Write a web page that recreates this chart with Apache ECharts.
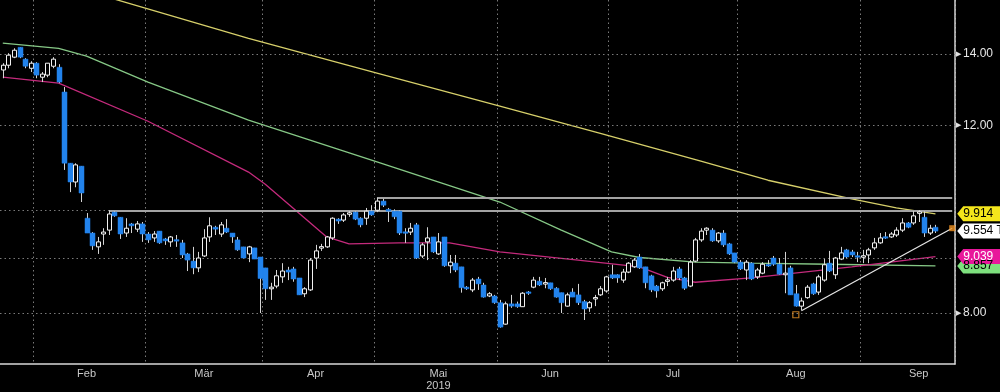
<!DOCTYPE html>
<html><head><meta charset="utf-8">
<script src="https://cdn.jsdelivr.net/npm/echarts@6/dist/echarts.min.js"></script>
<style>html,body{margin:0;padding:0;background:#000;}#c{width:1000px;height:392px;}</style>
</head><body><div id="c"></div>
<script>
const FONT = "'Liberation Sans Narrow','Liberation Sans',Arial,sans-serif";

// trading days shown on the category axis (last three have no candle yet)
const tradingDays = {
  '2019-01': [24,25,28,29,30,31],
  '2019-02': [1,4,5,6,7,8,11,12,13,14,15,18,19,20,21,22,25,26,27,28],
  '2019-03': [1,4,5,6,7,8,11,12,13,14,15,18,19,20,21,22,25,26,27,28,29],
  '2019-04': [1,2,3,4,5,8,9,10,11,12,15,16,17,18,23,24,25,26,29,30],
  '2019-05': [2,3,6,7,8,9,10,13,14,15,16,17,20,21,22,23,24,27,28,29,30,31],
  '2019-06': [3,4,5,6,7,10,11,12,13,14,17,18,19,20,21,24,25,26,27,28],
  '2019-07': [1,2,3,4,5,8,9,10,11,12,15,16,17,18,19,22,23,24,25,26,29,30,31],
  '2019-08': [1,2,5,6,7,8,9,12,13,14,15,16,19,20,21,22,23,26,27,28,29,30],
  '2019-09': [2,3,4,5,6,9,10,11,12,13,16,17,18,19,20,23,24]
};
const categories = [];
for (const m in tradingDays) for (const d of tradingDays[m]) categories.push(m + '-' + String(d).padStart(2, '0'));

// [open, close, low, high]
const ohlc = [
[13.53,13.67,13.29,13.73],[13.67,13.97,13.58,14.03],[13.91,14.12,13.88,14.18],[14.21,13.91,13.88,14.21],
[13.85,13.64,13.58,13.88],[13.58,13.73,13.47,13.79],[13.73,13.38,13.29,13.76],[13.32,13.41,13.18,13.47],
[13.38,13.73,13.32,13.73],[13.64,13.85,13.58,13.91],[13.61,13.18,13.15,13.70],[12.90,11.06,10.90,13.04],
[11.06,10.62,10.39,11.06],[10.62,11.02,10.50,11.06],[10.99,10.37,10.17,10.99],[9.82,9.51,9.51,9.93],
[9.51,9.25,9.17,9.53],[9.23,9.33,9.09,9.43],[9.49,9.53,9.27,9.61],[9.57,9.91,9.47,9.99],
[9.95,9.87,9.85,9.97],[9.84,9.49,9.39,9.84],[9.51,9.61,9.43,9.82],[9.70,9.66,9.51,9.72],
[9.59,9.70,9.53,9.76],[9.70,9.49,9.33,9.74],[9.49,9.37,9.31,9.53],[9.41,9.49,9.33,9.55],
[9.55,9.31,9.29,9.55],[9.39,9.35,9.27,9.41],[9.33,9.43,9.23,9.45],[9.37,9.35,9.23,9.47],
[9.31,9.07,9.01,9.37],[9.09,8.97,8.76,9.11],[8.95,8.82,8.70,9.23],[8.82,9.01,8.74,9.13],
[9.05,9.41,9.03,9.59],[9.43,9.66,9.33,9.84],[9.63,9.59,9.47,9.66],[9.49,9.68,9.43,9.74],
[9.61,9.53,9.51,9.80],[9.51,9.43,9.31,9.51],[9.37,9.17,9.15,9.43],[9.23,9.01,9.01,9.23],
[9.09,9.23,8.93,9.25],[9.21,8.99,8.99,9.21],[9.03,8.62,8.00,9.03],[8.82,8.43,8.23,8.82],
[8.43,8.46,8.23,8.54],[8.48,8.67,8.44,8.78],[8.65,8.76,8.54,8.91],[8.78,8.74,8.59,8.84],
[8.80,8.61,8.56,8.84],[8.63,8.32,8.32,8.63],[8.34,8.43,8.28,8.46],[8.41,8.97,8.39,9.01],
[9.01,9.15,8.80,9.27],[9.21,9.23,9.15,9.29],[9.23,9.43,9.21,9.45],[9.41,9.82,9.37,9.84],
[9.80,9.76,9.70,9.82],[9.78,9.89,9.74,9.93],[9.91,9.93,9.85,9.97],[9.95,9.80,9.78,9.97],
[9.82,9.68,9.63,9.84],[9.82,9.97,9.68,10.04],[9.97,9.89,9.87,10.10],[9.99,10.19,9.95,10.26],
[10.19,10.10,10.06,10.24],[10.01,9.97,9.74,10.04],[9.97,9.85,9.80,10.01],[9.97,9.51,9.47,9.99],
[9.53,9.51,9.31,9.61],[9.53,9.61,9.47,9.72],[9.68,9.01,8.99,9.72],[9.05,9.27,9.01,9.31],
[9.33,9.41,8.97,9.63],[9.43,9.13,9.11,9.43],[9.09,9.33,9.07,9.51],[9.43,8.86,8.84,9.43],
[8.86,8.93,8.72,9.07],[8.91,8.78,8.74,9.07],[8.84,8.45,8.36,8.84],[8.46,8.43,8.41,8.48],
[8.41,8.59,8.37,8.63],[8.61,8.52,8.41,8.65],[8.50,8.28,8.27,8.54],[8.30,8.34,8.28,8.37],
[8.30,8.18,8.16,8.32],[8.18,7.76,7.75,8.23],[7.81,8.16,7.80,8.20],[8.16,8.12,8.09,8.32],
[8.16,8.11,8.09,8.20],[8.11,8.35,8.11,8.37],[8.37,8.35,8.32,8.39],[8.46,8.59,8.44,8.65],
[8.57,8.50,8.48,8.65],[8.52,8.54,8.44,8.63],[8.54,8.43,8.41,8.54],[8.44,8.28,8.27,8.46],
[8.36,8.18,8.00,8.36],[8.12,8.32,8.11,8.36],[8.37,8.28,8.28,8.44],[8.32,8.18,8.14,8.52],
[8.20,8.07,7.88,8.23],[8.09,8.18,8.02,8.21],[8.25,8.27,8.12,8.32],[8.32,8.43,8.30,8.48],
[8.39,8.65,8.36,8.67],[8.69,8.63,8.61,8.88],[8.69,8.63,8.54,8.70],[8.59,8.74,8.54,8.80],
[8.74,8.91,8.72,8.93],[8.84,8.97,8.82,9.01],[9.03,8.82,8.80,9.09],[8.84,8.54,8.44,8.84],
[8.67,8.41,8.37,8.69],[8.48,8.39,8.27,8.50],[8.43,8.54,8.39,8.56],[8.57,8.59,8.48,8.65],
[8.59,8.76,8.56,8.84],[8.80,8.63,8.59,8.84],[8.63,8.44,8.41,8.65],[8.48,8.93,8.46,8.97],
[8.95,9.37,8.93,9.41],[9.37,9.55,9.33,9.61],[9.57,9.61,9.47,9.63],[9.57,9.35,9.33,9.61],
[9.35,9.51,9.31,9.53],[9.51,9.27,9.23,9.57],[9.29,9.09,9.07,9.31],[9.11,8.93,8.91,9.11],
[8.93,8.80,8.78,8.97],[8.78,8.93,8.59,8.97],[8.91,8.61,8.59,8.93],[8.65,8.78,8.61,8.82],
[8.72,8.89,8.70,8.93],[8.88,8.86,8.84,8.97],[9.01,8.89,8.86,9.05],[8.89,8.70,8.69,9.01],
[8.69,8.72,8.35,9.13],[8.82,8.32,8.32,8.86],[8.34,8.12,8.11,8.50],[8.12,8.21,8.05,8.27],
[8.27,8.46,8.25,8.50],[8.52,8.34,8.32,8.54],[8.37,8.65,8.32,8.69],[8.59,8.88,8.56,8.99],
[8.91,8.76,8.74,9.15],[8.69,9.01,8.61,9.03],[8.99,9.11,8.97,9.23],[9.17,9.03,9.01,9.19],
[9.13,9.07,9.03,9.17],[9.05,9.03,8.93,9.13],[9.03,9.05,8.91,9.17],[9.07,9.17,8.91,9.21],
[9.21,9.31,9.17,9.41],[9.31,9.41,9.29,9.51],[9.43,9.41,9.39,9.53],[9.43,9.49,9.41,9.53],
[9.47,9.57,9.43,9.63],[9.57,9.72,9.53,9.82],[9.72,9.63,9.61,9.74],[9.72,9.87,9.68,9.97],
[9.93,9.95,9.74,9.99],[9.84,9.51,9.43,9.97],[9.51,9.61,9.47,9.68],[9.63,9.55,9.51,9.68]
];

// moving averages
const maYellow = [['2019-02-21',15.77],['2019-03-27',14.49],['2019-05-02',13.44],['2019-06-03',12.51],
  ['2019-06-27',11.80],['2019-07-23',11.11],['2019-08-08',10.66],['2019-08-29',10.24],['2019-09-10',10.04],['2019-09-19',9.914]];
const maGreen = [['2019-01-24',14.34],['2019-02-07',14.18],['2019-02-14',13.94],['2019-03-01',13.18],['2019-03-27',12.14],
  ['2019-05-02',11.09],['2019-06-03',10.17],['2019-06-18',9.57],['2019-07-01',9.13],['2019-07-08',9.02],
  ['2019-07-22',8.93],['2019-08-05',8.91],['2019-08-23',8.89],['2019-09-19',8.857]];
const maMagenta = [['2019-01-24',13.32],['2019-02-07',13.15],['2019-03-01',12.11],['2019-03-27',10.85],['2019-04-01',10.57],
  ['2019-04-16',9.43],['2019-04-24',9.29],['2019-05-08',9.31],['2019-05-21',9.31],['2019-06-03',9.13],['2019-06-21',8.97],
  ['2019-07-08',8.84],['2019-07-15',8.64],['2019-07-22',8.55],['2019-08-05',8.63],['2019-08-29',8.84],['2019-09-19',9.039]];

const levelLines = [['2019-02-20', 9.99], ['2019-05-02', 10.27]];
const trendLine = [['2019-08-16', 8.04], ['2019-09-24', 9.61]];
const trendAnchor = ['2019-08-15', 7.97];

const gridValues = [14, 12, 10, 9, 8];
const labeledValues = [14, 12, 8];
const monthNames = {'02':'Feb','03':'Mär','04':'Apr','05':'Mai','06':'Jun','07':'Jul','08':'Aug','09':'Sep'};
const monthLabelDates = ['2019-02-14','2019-03-15','2019-04-12','2019-05-17','2019-06-14','2019-07-16','2019-08-15','2019-09-16'];
const yearLabels = {'2019-05-17': '2019'};

const tagValues = [8.857, 9.039, 9.914, 9.554];
const tagTexts = ['8.857', '9.039', '9.914', '9.554 TUI'];
const tagBg = ['#7ee07e', '#e8179b', '#f4e61c', '#ffffff'];
const tagFg = ['#000000', '#ffffff', '#000000', '#000000'];

const lastCat = categories[categories.length - 1];
const candleData = ohlc.map((d, i) => [i, d[0], d[1], d[2], d[3]]);
const isMonthStart = (idx) => idx > 0 && categories[idx].slice(5, 7) !== categories[idx - 1].slice(5, 7);

const UP = '#f2f2f2', DOWN = '#2283ec', WICK = '#d4d4d4';

function renderCandle(params, api) {
  const i = api.value(0), o = api.value(1), c = api.value(2), l = api.value(3), h = api.value(4);
  const pO = api.coord([i, o]), pC = api.coord([i, c]), pL = api.coord([i, l]), pH = api.coord([i, h]);
  const band = api.coord([i + 1, o])[0] - pO[0];
  const up = c >= o;
  const w = up ? 4 : 5;
  const x = Math.round(pO[0]) + 0.5;
  let top = Math.min(pO[1], pC[1]);
  let bh = Math.abs(pO[1] - pC[1]);
  if (bh < 1.5) { top -= (1.5 - bh) / 2; bh = 1.5; }
  return {
    type: 'group',
    children: [
      { type: 'line', shape: { x1: x, y1: pH[1], x2: x, y2: pL[1] }, style: { stroke: WICK, lineWidth: 1 } },
      { type: 'rect', shape: { x: x - w / 2, y: top, width: w, height: bh },
        style: up ? { fill: '#000', stroke: UP, lineWidth: 1 } : { fill: DOWN, stroke: DOWN, lineWidth: 0.5 } }
    ]
  };
}

const chart = echarts.init(document.getElementById('c'), null, { renderer: 'canvas' });
chart.setOption({
  backgroundColor: '#000',
  animation: false,
  grid: { left: 0, right: 45, top: 0, bottom: 28 },
  xAxis: {
    type: 'category', data: categories, boundaryGap: true,
    axisLine: { lineStyle: { color: '#d8d8d8', width: 1.5 } },
    axisTick: { interval: (idx) => isMonthStart(idx), length: 4, lineStyle: { color: '#9a9a9a' } },
    axisLabel: {
      interval: (idx, val) => monthLabelDates.includes(val),
      formatter: (val) => monthNames[val.slice(5, 7)] + (yearLabels[val] ? '\n' + yearLabels[val] : ''),
      color: '#c8c8c8', fontSize: 11, fontFamily: FONT, margin: 4, lineHeight: 12
    },
    splitLine: { show: true, interval: (idx) => isMonthStart(idx), lineStyle: { color: '#7a7a7a', type: [1.5, 3], width: 1 } }
  },
  yAxis: {
    type: 'log', logBase: 10, min: 7.165, max: 15.74, position: 'right',
    axisLine: { show: true, lineStyle: { color: '#d0d0d0', width: 1.5 } },
    axisTick: { show: false }, axisLabel: { show: false }, splitLine: { show: false }
  },
  series: [
    {
      type: 'line', data: [], silent: true, z: 1,
      markLine: {
        silent: true, symbol: 'none', animation: false,
        lineStyle: { color: '#7a7a7a', type: [1.5, 3], width: 1 },
        label: { position: 'end', distance: 1,
          rich: { t: { fontSize: 7, color: '#e0e0e0', padding: [0, 2, 0, 0] },
                  v: { fontSize: 12, color: '#e6e6e6', fontFamily: FONT } } },
        data: gridValues.map(v => ({ yAxis: v,
          label: { show: labeledValues.includes(v), formatter: '{t|\u25B6}{v|' + v.toFixed(2) + '}' } }))
      }
    },
    {
      type: 'line', data: [], silent: true, z: 2,
      markLine: {
        silent: true, symbol: 'none', animation: false, label: { show: false },
        lineStyle: { color: '#a3a3a3', type: 'solid', width: 2 },
        data: levelLines.map(p => [{ coord: p }, { coord: [lastCat, p[1]] }])
      }
    },
    { type: 'line', data: maYellow, symbol: 'none', silent: true, z: 3,
      lineStyle: { color: '#d6cf6a', width: 1.3 } },
    { type: 'line', data: maGreen, symbol: 'none', silent: true, z: 3,
      lineStyle: { color: '#86c886', width: 1.3 } },
    { type: 'line', data: maMagenta, symbol: 'none', silent: true, z: 3,
      lineStyle: { color: '#c42a7c', width: 1.3 } },
    {
      type: 'custom', renderItem: renderCandle, data: candleData, z: 5,
      encode: { x: 0, y: [1, 2, 3, 4] }
    },
    { type: 'line', data: trendLine, symbol: 'none', silent: true, z: 6,
      lineStyle: { color: '#e6e6e6', width: 1.2 } },
    { type: 'scatter', data: [trendAnchor], symbol: 'rect', symbolSize: 6, z: 7, silent: true,
      itemStyle: { color: 'rgba(0,0,0,0)', borderColor: '#e8952a', borderWidth: 1.2 } },
    { type: 'scatter', data: [trendLine[1]], symbol: 'rect', symbolSize: 6, z: 7, silent: true,
      itemStyle: { color: '#f29422' } },
    {
      type: 'line', data: [], silent: true, z: 8,
      markPoint: {
        silent: true, animation: false,
        data: tagValues.map((v, k) => ({
          coord: [lastCat, v],
          symbol: 'path://M0,7L6,0L64,0L64,14L6,14Z', symbolSize: [64, 15], symbolKeepAspect: false,
          symbolOffset: [37, 0],
          itemStyle: { color: tagBg[k] },
          label: { show: true, position: 'insideLeft', distance: 6, formatter: tagTexts[k],
            color: tagFg[k], fontSize: 12, fontFamily: FONT }
        }))
      }
    }
  ]
});
</script></body></html>
